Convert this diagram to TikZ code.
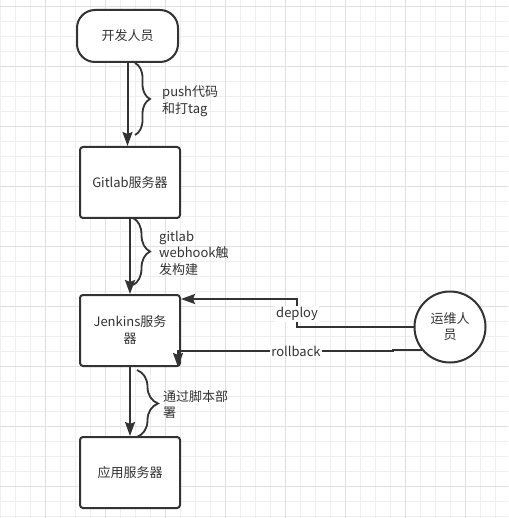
\documentclass[tikz,border=0pt]{standalone}
\usepackage{fontspec}
\setmainfont{Noto Sans CJK SC}
\usetikzlibrary{arrows.meta,decorations.pathreplacing}
\definecolor{ink}{HTML}{333333}
\definecolor{gridminor}{HTML}{EFEFEF}
\definecolor{gridmajor}{HTML}{E0E0E0}
\begin{document}
\begin{tikzpicture}[x=1pt,y=-1pt,
  every node/.style={font=\fontsize{13}{16.5}\selectfont, text=ink},
  stadium/.style={draw=ink, line width=2pt, fill=white, rounded corners=18pt, minimum width=101pt, minimum height=52pt, inner sep=0pt},
  box/.style={draw=ink, line width=2pt, fill=white, rounded corners=3pt, minimum width=100pt, minimum height=71pt, inner sep=0pt, align=center},
  opsnode/.style={draw=ink, line width=2pt, fill=white, circle, minimum size=71pt, inner sep=0pt, align=center},
  arr/.style={draw=ink, line width=2pt, -{Stealth[length=14pt,width=10pt,inset=2pt]}},
  bracebar/.style={draw=ink, line width=1.8pt, decorate},
  note/.style={anchor=west, inner sep=0pt, align=left},
  lbl/.style={fill=white, inner sep=1pt}
]
\useasboundingbox (0,0) rectangle (508,518);
\fill[white] (0,0) rectangle (508,518);
% grid
\foreach \i in {0,...,33} \draw[gridminor, line width=1pt] (15*\i,0) -- (15*\i,518);
\foreach \j in {0,...,34} \draw[gridminor, line width=1pt] (0,6.7+15*\j) -- (508,6.7+15*\j);
\foreach \i in {0,...,7} \draw[gridmajor, line width=1pt] (45+60*\i,0) -- (45+60*\i,518);
\foreach \j in {0,...,8} \draw[gridmajor, line width=1pt] (0,6.7+60*\j) -- (508,6.7+60*\j);

% nodes
\node[stadium] (dev) at (127.5,36) {开发人员};
\node[box] (gitlab) at (130,182.5) {Gitlab服务器};
\node[box, font=\fontsize{13}{17}\selectfont] (jenkins) at (130,330.5) {Jenkins服务\\器};
\node[box] (app) at (130,472.5) {应用服务器};
\node[opsnode, font=\fontsize{13}{16}\selectfont] (ops) at (450,327) {运维人\\员};

% vertical arrows
\draw[arr] (dev.south) -- (dev.south |- gitlab.north);
\draw[arr] (gitlab.south) -- (jenkins.north);
\draw[arr] (jenkins.south) -- (app.north);

% braces
\coordinate (b1a) at (135,63);
\coordinate (b1b) at (135,135);
\draw[bracebar, decoration={brace, amplitude=15pt}] (b1a) -- (b1b);
\coordinate (b2a) at (133,218);
\coordinate (b2b) at (133,285);
\draw[bracebar, decoration={brace, amplitude=17pt}] (b2a) -- (b2b);
\coordinate (b3a) at (137,370);
\coordinate (b3b) at (137,437);
\draw[bracebar, decoration={brace, amplitude=21pt}] (b3a) -- (b3b);

\node[note] (t1) at (162,101) {push代码\\和打tag};
\node[note] (t2) at (159,253) {gitlab\\webhook触\\发构建};
\node[note] (t3) at (163,404.5) {通过脚本部\\署};

% deploy / rollback
\coordinate (dk) at (297,299);
\draw[arr] (ops.west) -| (dk) -- (jenkins.north east |- dk);
\node[lbl] (dl) at (297,314) {deploy};
\coordinate (rb) at (178,351);
\coordinate (rs) at (393,350);
\draw[arr] (ops.220) -- (ops.220 -| rs) -- (rs |- rb) -- (rb) -- (rb |- jenkins.south);
\node[lbl] (rl) at (296,351) {rollback};
\end{tikzpicture}
\end{document}
